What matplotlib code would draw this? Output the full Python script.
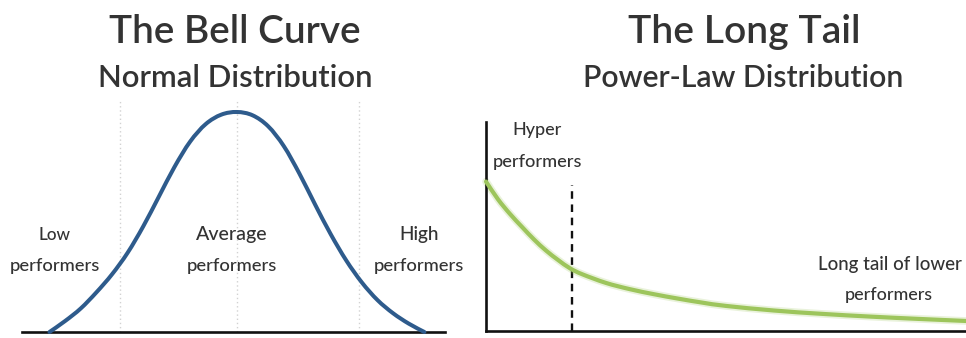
import matplotlib
matplotlib.use("Agg")
import matplotlib.pyplot as plt
from matplotlib.path import Path
from matplotlib.patches import PathPatch

# ---------------- data ----------------
# Bell curve: x in standard-deviation-like units, y relative height
bell_x = [-3.0, -2.75, -2.5, -2.25, -2.0, -1.75, -1.5, -1.25, -1.0, -0.75, -0.5, -0.25,
          0.0, 0.25, 0.5, 0.75, 1.0, 1.25, 1.5, 1.75, 2.0, 2.25, 2.5, 2.75, 3.0]
bell_y = [0.0, 0.05, 0.107, 0.18, 0.262, 0.36, 0.48, 0.615, 0.75, 0.865, 0.945, 0.988,
          1.0, 0.985, 0.935, 0.845, 0.72, 0.58, 0.445, 0.325, 0.225, 0.145, 0.085, 0.038, 0.0]
bell_dividers = [-1.87, 0.0, 1.95]

# Long tail: x along the axis, y height
tail_x = [0, 0.25, 0.5, 0.75, 1, 1.25, 1.5, 1.75, 2, 2.5, 3, 3.5, 4, 4.5, 5, 6, 7, 8, 9, 10]
tail_y = [7.15, 6.3, 5.6, 4.98, 4.38, 3.85, 3.4, 3.0, 2.72, 2.3, 2.0, 1.76, 1.55, 1.36,
          1.2, 0.98, 0.82, 0.69, 0.58, 0.48]
tail_divider = 1.79
tail_divider_top = 7.0

titles = ["The Bell Curve", "The Long Tail"]
subtitles = ["Normal Distribution", "Power-Law Distribution"]
bell_labels = [("Low", "performers"), ("Average", "performers"), ("High", "performers")]
hyper_label = ("Hyper", "performers")
tail_label = ("Long tail of lower", "performers")

# ---------------- styling ----------------
FONT = ["Lato", "DejaVu Sans"]
TXT = "#333333"
BLUE = "#2e5b8c"
GREEN = "#9dc55c"
W, H = 966, 338

fig = plt.figure(figsize=(W / 100, H / 100), dpi=100)
fig.patch.set_facecolor("white")


def frame(left, top, right, bottom):
    return [left / W, 1 - bottom / H, (right - left) / W, (bottom - top) / H]


def smooth_path(xs, ys):
    """Smooth (Catmull-Rom as cubic Bezier) path through the data points."""
    pts = list(zip(xs, ys))
    verts = [pts[0]]
    codes = [Path.MOVETO]
    n = len(pts)
    for i in range(n - 1):
        p0 = pts[i - 1] if i > 0 else pts[i]
        p1 = pts[i]
        p2 = pts[i + 1]
        p3 = pts[i + 2] if i + 2 < n else pts[i + 1]
        c1 = (p1[0] + (p2[0] - p0[0]) / 6, p1[1] + (p2[1] - p0[1]) / 6)
        c2 = (p2[0] - (p3[0] - p1[0]) / 6, p2[1] - (p3[1] - p1[1]) / 6)
        verts += [c1, c2, p2]
        codes += [Path.CURVE4] * 3
    return Path(verts, codes)


# ---------------- left panel ----------------
ax1 = fig.add_axes(frame(22, 90, 445, 332))
ax1.set_xlim(-3.44, 3.33)
ax1.set_ylim(0, 1.1)
for s in ["top", "right", "left"]:
    ax1.spines[s].set_visible(False)
ax1.spines["bottom"].set_linewidth(1.9)
ax1.spines["bottom"].set_color("#111111")
ax1.set_xticks([])
ax1.set_yticks([])
ax1.patch.set_alpha(0)
ax1.vlines(bell_dividers, 0, 1.055, colors="#d2d2d2", linestyles=(0, (1, 2)), lw=1.0)
ax1.add_patch(PathPatch(smooth_path(bell_x, bell_y), fill=False, edgecolor=BLUE,
                        lw=2.9, capstyle="round", joinstyle="round",
                        clip_on=False, zorder=3))

# ---------------- right panel ----------------
ax2 = fig.add_axes(frame(486, 122, 966, 331))
ax2.set_xlim(0, 10)
ax2.set_ylim(0, 10)
for s in ["top", "right"]:
    ax2.spines[s].set_visible(False)
for s in ["left", "bottom"]:
    ax2.spines[s].set_linewidth(1.9)
    ax2.spines[s].set_color("#111111")
ax2.set_xticks([])
ax2.set_yticks([])
ax2.patch.set_alpha(0)
ax2.vlines([tail_divider], 0, tail_divider_top, colors="#111111",
           linestyles=(0, (3.2, 2.4)), lw=1.7)
tail_path = smooth_path(tail_x, tail_y)
ax2.add_patch(PathPatch(tail_path, fill=False, edgecolor=GREEN, lw=5.5, alpha=0.22,
                        capstyle="round", clip_on=False, zorder=2))
ax2.add_patch(PathPatch(tail_path, fill=False, edgecolor=GREEN, lw=3.0,
                        capstyle="round", joinstyle="round", clip_on=False, zorder=3))

# ---------------- text ----------------
renderer = fig.canvas.get_renderer()


def fit(x, y, s, width, weight="medium"):
    t = fig.text(x / W, 1 - y / H, s, ha="center", va="baseline", fontsize=20,
                 color=TXT, family=FONT, fontweight=weight)
    bb = t.get_window_extent(renderer)
    t.set_fontsize(20 * width / bb.width)
    return t


fit(235, 43, titles[0], 252, "semibold")
fit(235, 87, subtitles[0], 275, "semibold")
fit(744, 43, titles[1], 232, "semibold")
fit(743, 87, subtitles[1], 320, "semibold")

label_x = [55, 232, 419]
label_w = [32, 72, 40]
for (l1, l2), x, w in zip(bell_labels, label_x, label_w):
    fit(x, 240, l1, w)
    fit(x, 271, l2, 90)

fit(537, 135, hyper_label[0], 49)
fit(537, 167, hyper_label[1], 89)
fit(890, 270, tail_label[0], 144)
fit(889, 300, tail_label[1], 88)

fig.savefig("out.png", dpi=100, facecolor="white")
